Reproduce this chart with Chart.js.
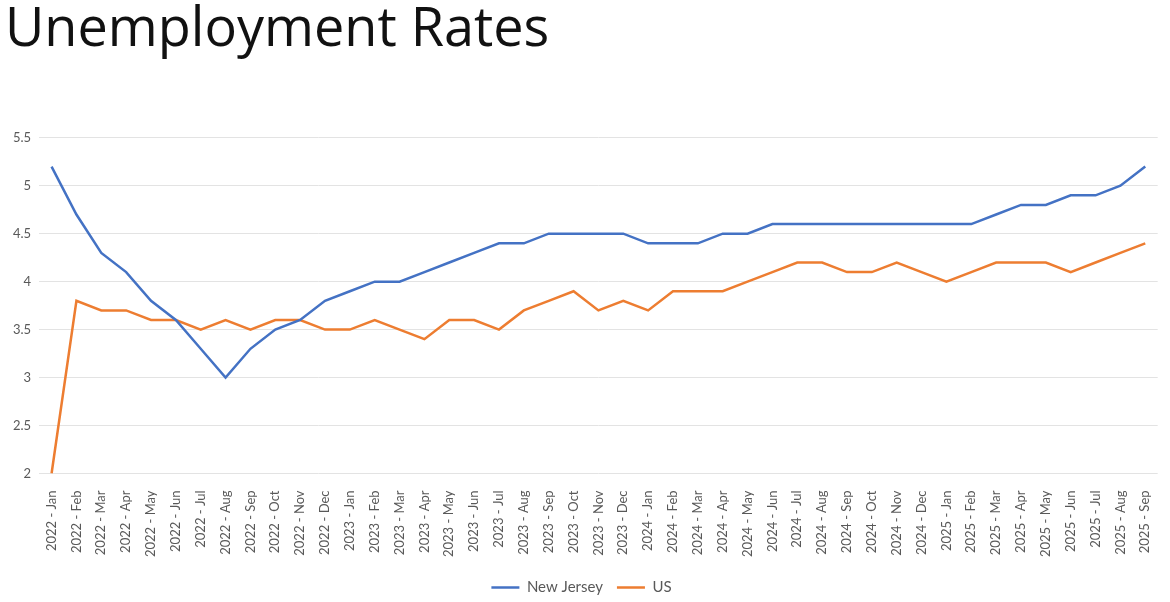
<!DOCTYPE html>
<html>
<head>
	<meta charset="utf-8">
	<title>Unemployment Rates</title>
	<script src="https://cdn.jsdelivr.net/npm/chart.js"></script>
	<style>
		body { margin: 0; background: #fff; }
		#wrap { width: 1170px; height: 602px; position: relative; }
	</style>
</head>
<body>
	<div id="wrap">
		<canvas id="rateChart"></canvas>
	</div>

	<script>
        // Months, Jan 2022 to Sep 2025
        const months = [
            '2022 - Jan', '2022 - Feb', '2022 - Mar', '2022 - Apr', '2022 - May', '2022 - Jun',
            '2022 - Jul', '2022 - Aug', '2022 - Sep', '2022 - Oct', '2022 - Nov', '2022 - Dec',
            '2023 - Jan', '2023 - Feb', '2023 - Mar', '2023 - Apr', '2023 - May', '2023 - Jun',
            '2023 - Jul', '2023 - Aug', '2023 - Sep', '2023 - Oct', '2023 - Nov', '2023 - Dec',
            '2024 - Jan', '2024 - Feb', '2024 - Mar', '2024 - Apr', '2024 - May', '2024 - Jun',
            '2024 - Jul', '2024 - Aug', '2024 - Sep', '2024 - Oct', '2024 - Nov', '2024 - Dec',
            '2025 - Jan', '2025 - Feb', '2025 - Mar', '2025 - Apr', '2025 - May', '2025 - Jun',
            '2025 - Jul', '2025 - Aug', '2025 - Sep'
        ];

        const newJersey = [
            5.2, 4.7, 4.3, 4.1, 3.8, 3.6, 3.3, 3.0, 3.3, 3.5, 3.6, 3.8,
            3.9, 4.0, 4.0, 4.1, 4.2, 4.3, 4.4, 4.4, 4.5, 4.5, 4.5, 4.5,
            4.4, 4.4, 4.4, 4.5, 4.5, 4.6, 4.6, 4.6, 4.6, 4.6, 4.6, 4.6,
            4.6, 4.6, 4.7, 4.8, 4.8, 4.9, 4.9, 5.0, 5.2
        ];

        const us = [
            2.0, 3.8, 3.7, 3.7, 3.6, 3.6, 3.5, 3.6, 3.5, 3.6, 3.6, 3.5,
            3.5, 3.6, 3.5, 3.4, 3.6, 3.6, 3.5, 3.7, 3.8, 3.9, 3.7, 3.8,
            3.7, 3.9, 3.9, 3.9, 4.0, 4.1, 4.2, 4.2, 4.1, 4.1, 4.2, 4.1,
            4.0, 4.1, 4.2, 4.2, 4.2, 4.1, 4.2, 4.3, 4.4
        ];

        const ctx = document.getElementById('rateChart').getContext('2d');
        const rateChart = new Chart(ctx, {
            type: 'line',
            data: {
                labels: months,
                datasets: [{
                    label: 'New Jersey',
                    data: newJersey,
                    borderColor: '#4472C4',
                    backgroundColor: '#4472C4',
                    borderWidth: 2.5,
                    pointRadius: 0,
                    tension: 0,
                    fill: false
                }, {
                    label: 'US',
                    data: us,
                    borderColor: '#ED7D31',
                    backgroundColor: '#ED7D31',
                    borderWidth: 2.5,
                    pointRadius: 0,
                    tension: 0,
                    fill: false
                }]
            },
            options: {
                responsive: true,
                maintainAspectRatio: false,
                animation: false,
                layout: {
                    padding: { left: 5, right: 12, top: 0, bottom: -3 }
                },
                plugins: {
                    title: {
                        display: true,
                        text: 'Unemployment Rates',
                        align: 'start',
                        color: '#111',
                        font: { family: 'Open Sans', size: 54, weight: 'normal' },
                        padding: { top: -2, bottom: 75 }
                    },
                    legend: {
                        position: 'bottom',
                        labels: {
                            usePointStyle: true,
                            pointStyle: 'line',
                            pointStyleWidth: 28,
                            padding: 14,
                            color: '#595959',
                            font: { family: 'Lato', size: 15 }
                        }
                    },
                    tooltip: { enabled: false }
                },
                scales: {
                    x: {
                        offset: true,
                        grid: { display: false },
                        border: { display: false },
                        ticks: {
                            autoSkip: false,
                            maxRotation: 90,
                            minRotation: 90,
                            padding: 9,
                            color: '#595959',
                            font: { family: 'Lato', size: 13 }
                        }
                    },
                    y: {
                        min: 2,
                        max: 5.5,
                        border: { display: false },
                        grid: { color: '#e3e3e3', drawTicks: false },
                        ticks: {
                            stepSize: 0.5,
                            padding: 8,
                            color: '#595959',
                            font: { family: 'Lato', size: 13 },
                            callback: function(value) {
                                return String(value); // 5 not 5.0, like the source
                            }
                        }
                    }
                }
            }
        });
    </script>
</body>
</html>
